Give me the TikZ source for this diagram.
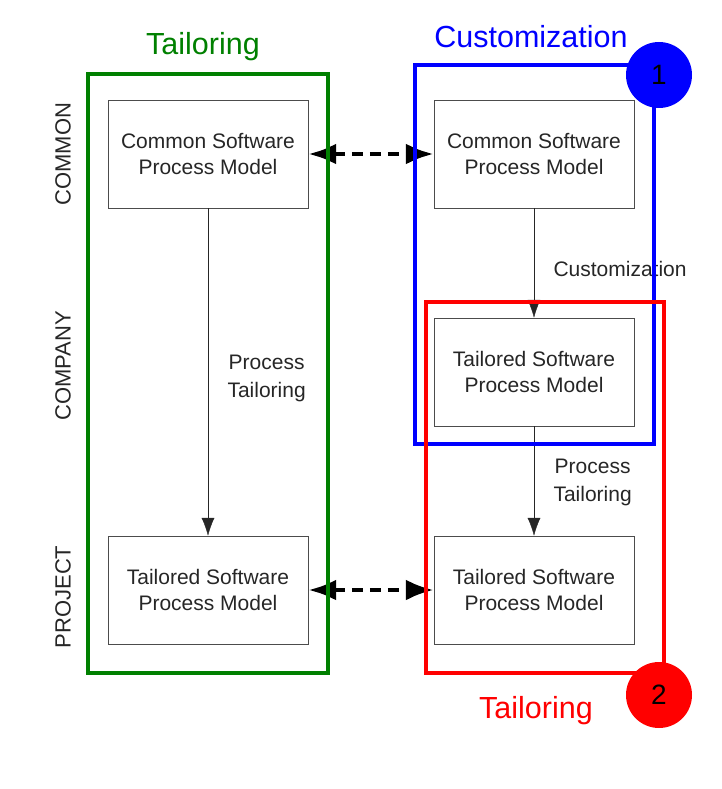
\documentclass[tikz,border=0pt]{standalone}
\usepackage{fontspec}
\setmainfont{Liberation Sans}
\usetikzlibrary{arrows.meta}

\begin{document}
\begin{tikzpicture}[
    x = 1pt, y = -1pt,
    model/.style = {draw = black!70, thin,
      text = black!85,
      align = center,
      font = \fontsize{21}{26}\selectfont,
      minimum width = 200pt,
      minimum height = 108pt},
    level/.style = {rotate = 90, text = black!85,
      font = \fontsize{22}{26}\selectfont},
    flowlabel/.style = {text = black!85, align = center,
      font = \fontsize{21}{28}\selectfont},
    title/.style = {font = \fontsize{30.5}{35}\selectfont},
    frame/.style = {line width = 4pt},
    badge/.style = {circle, minimum size = 66pt, inner sep = 0pt,
      font = \fontsize{28}{32}\selectfont},
    link/.style = {-{Latex[length = 18pt, width = 13pt]}, black!85},
    mapping/.style = {{Latex[length = 28pt, width = 21pt]}-{Latex[length = 28pt, width = 21pt]},
      line width = 4.5pt, dash pattern = on 11pt off 7pt},
    ]

    \useasboundingbox (0, 0) rectangle (721, 789);

    \node at (208, 154) [model, name = csm_l] {Common Software\\Process Model};
    \node at (208, 590) [model, name = tsm_l] {Tailored Software\\Process Model};

    \node at (534, 154) [model, name = csm_r] {Common Software\\Process Model};
    \node at (534, 372) [model, name = tsm_c] {Tailored Software\\Process Model};
    \node at (534, 590) [model, name = tsm_p] {Tailored Software\\Process Model};

    \node at (63, 154) [level, name = lv_common] {COMMON};
    \node at (63, 366) [level, name = lv_company] {COMPANY};
    \node at (63, 597) [level, name = lv_project] {PROJECT};

    \draw [link] (csm_l) to node [flowlabel, right, xshift = 16pt, pos = 0.52]
    {Process\\Tailoring} (tsm_l);
    \draw [link] (csm_r) to node [flowlabel, right, xshift = 16pt, yshift = -6pt]
    {Customization} (tsm_c);
    \draw [link] (tsm_c) to node [flowlabel, right, xshift = 16pt, yshift = -1pt]
    {Process\\Tailoring} (tsm_p);

    \draw [mapping] (csm_l) to (csm_r);
    \draw [mapping] (tsm_l) to (tsm_p);

    \draw [frame, green!50!black] (88, 74) rectangle (328, 673);
    \draw [frame, blue] (415, 65) rectangle (654, 444);
    \draw [frame, red] (426, 302) rectangle (664, 673);

    \node at (203, 47) [title, text = green!50!black, name = t_left] {Tailoring};
    \node at (531, 37) [title, text = blue, name = t_custom] {Customization};
    \node at (536, 711) [title, text = red, name = t_tailor] {Tailoring};

    \node at (659, 75) [badge, fill = blue, name = b_one] {1};
    \node at (659, 695) [badge, fill = red, name = b_two] {2};

  \end{tikzpicture}
\end{document}
